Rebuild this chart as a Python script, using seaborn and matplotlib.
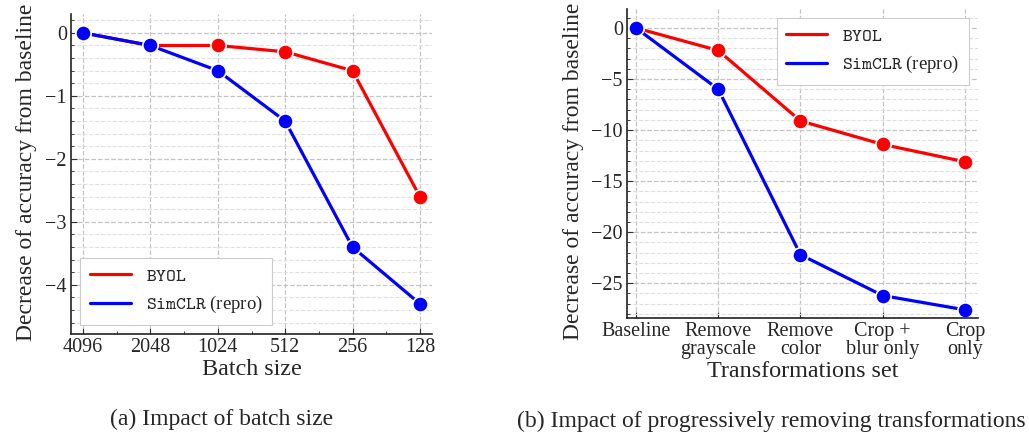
import pandas as pd
import matplotlib.pyplot as plt
import seaborn as sns
from matplotlib.lines import Line2D
from matplotlib.ticker import MultipleLocator
from matplotlib.font_manager import FontProperties

batch_sizes = ['4096', '2048', '1024', '512', '256', '128']
byol_batch = [0.0, -0.2, -0.2, -0.3, -0.6, -2.6]
simclr_batch = [0.0, -0.2, -0.6, -1.4, -3.4, -4.3]

transforms = ['Baseline', 'Remove\ngrayscale', 'Remove\ncolor', 'Crop +\nblur only', 'Crop\nonly']
byol_trans = [0.0, -2.2, -9.1, -11.4, -13.1]
simclr_trans = [0.0, -6.0, -22.2, -26.2, -27.6]

methods = ['BYOL', 'SimCLR']
colors = {'BYOL': 'red', 'SimCLR': 'blue'}
legend_labels = [r'$\mathtt{BYOL}$', r'$\mathtt{SimCLR}$ (repro)']


def long_frame(xs, byol, simclr):
    return pd.DataFrame({
        'x': xs * 2,
        'y': byol + simclr,
        'method': ['BYOL'] * len(xs) + ['SimCLR'] * len(xs),
    })


sns.set_theme(style='ticks')
plt.rcParams['font.family'] = ['Liberation Serif', 'DejaVu Serif']
plt.rcParams['axes.unicode_minus'] = True
plt.rcParams['xtick.direction'] = 'in'
plt.rcParams['ytick.direction'] = 'in'

fig = plt.figure(figsize=(10.29, 4.33), dpi=100)
W, H = 1029, 433
ax1 = fig.add_axes([71 / W, (H - 334) / H, (432 - 71) / W, (334 - 14) / H])
ax2 = fig.add_axes([627 / W, (H - 318) / H, (978 - 627) / W, (318 - 9) / H])

legend_font = FontProperties(family='Liberation Serif', size=13.5, math_fontfamily='cm')


def draw(ax, xs, byol, simclr, xlabel, ylim, xlim, major, minor, legend_loc, ypad):
    df = long_frame(xs, byol, simclr)
    ax.set_axisbelow(True)
    ax.yaxis.set_major_locator(MultipleLocator(major))
    ax.yaxis.set_minor_locator(MultipleLocator(minor))
    ax.grid(True, which='major', linestyle='--', color='#c4c4c4', linewidth=0.9)
    ax.grid(True, which='minor', axis='y', linestyle='--', color='#e0e0e0', linewidth=0.8)
    sns.lineplot(data=df, x='x', y='y', hue='method', palette=colors, sort=False,
                 marker='o', markersize=11, markeredgecolor='white', markeredgewidth=1.2,
                 linewidth=2.3, ax=ax, legend=False)
    ax.set_ylim(*ylim)
    ax.set_xlim(*xlim)
    ax.set_xlabel(xlabel, fontsize=17.4, labelpad=1)
    ax.set_ylabel('Decrease of accuracy from baseline', fontsize=17, labelpad=ypad)
    ax.tick_params(labelsize=14.5, length=4, width=0.8, color='#333333', pad=3)
    ax.tick_params(which='minor', length=2, width=0.6)
    sns.despine(ax=ax)
    for s in ('left', 'bottom'):
        ax.spines[s].set_linewidth(1.2)
        ax.spines[s].set_color('#222222')
    handles = [Line2D([], [], color=colors[m], linewidth=2.3) for m in methods]
    leg = ax.legend(handles, legend_labels, loc=legend_loc, prop=legend_font,
                    frameon=True, fancybox=False, framealpha=1, edgecolor='#cccccc',
                    handlelength=2.2, borderpad=0.5, labelspacing=0.5)
    leg.get_frame().set_linewidth(0.8)


draw(ax1, batch_sizes, byol_batch, simclr_batch, 'Batch size',
     (-4.78, 0.3), (-0.18, 5.18), 1, 0.2, 'lower left', 6)
ax1.set_xticks(range(len(batch_sizes)))
ax1.set_xticklabels(batch_sizes)
ax1.xaxis.set_minor_locator(MultipleLocator(0.5))
ax1.yaxis.label.set_y(0.505)

draw(ax2, transforms, byol_trans, simclr_trans, 'Transformations set',
     (-28.4, 1.86), (-0.11, 4.16), 5, 1, 'upper right', 5)
ax2.set_xticks(range(len(transforms)))
ax2.set_xticklabels(transforms, linespacing=0.95)
ax2.yaxis.label.set_y(0.475)

fig.text(222 / W, 1 - 419 / H, '(a) Impact of batch size', ha='center', va='center', fontsize=17)
fig.text(771 / W, 1 - 421 / H, '(b) Impact of progressively removing transformations',
         ha='center', va='center', fontsize=17)

fig.savefig('out.png', dpi=100)
